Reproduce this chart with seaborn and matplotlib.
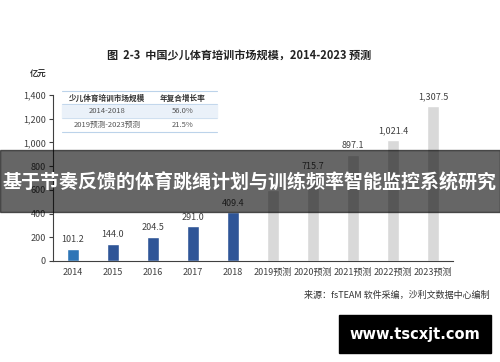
import matplotlib
matplotlib.use("Agg")
import matplotlib.pyplot as plt
import seaborn as sns
from matplotlib.patches import Rectangle
from matplotlib.lines import Line2D

# 数据
years = ["2014", "2015", "2016", "2017", "2018",
         "2019预测", "2020预测", "2021预测", "2022预测", "2023预测"]
# 2019预测 的数值被横幅遮住，按图估计
market_size = [101.2, 144.0, 204.5, 291.0, 409.4, 600.0, 715.7, 897.1, 1021.4, 1307.5]
show_label = [True, True, True, True, True, False, True, True, True, True]
bar_colors = ["#2e75b6", "#2f5597", "#2f5597", "#2f5597", "#2f5597",
              "#d9d9d9", "#d9d9d9", "#d9d9d9", "#d9d9d9", "#d9d9d9"]
table_header = ["少儿体育培训市场规模", "年复合增长率"]
table_rows = [["2014-2018", "56.0%"], ["2019预测-2023预测", "21.5%"]]
yticks = [0, 200, 400, 600, 800, 1000, 1200, 1400]

sns.set_style("white")
plt.rcParams["font.family"] = ["Noto Sans CJK SC", "DejaVu Sans"]

W, H = 500, 362
fig = plt.figure(figsize=(5, 3.62), dpi=100)

def fx(x):
    return x / W

def fy(y):
    return 1 - y / H

ax = fig.add_axes([fx(53), fy(261), fx(400), fy(95) - fy(261)])
sns.barplot(x=years, y=market_size, hue=years, palette=bar_colors,
            legend=False, width=0.3, saturation=1, ax=ax)
ax.set_xlim(-0.5, 9.5)
ax.set_ylim(0, 1400)
ax.set_yticks(yticks)
ax.set_yticklabels([f"{v:,}" for v in yticks], fontsize=6.5, color="#404040")
ax.set_xticks(range(len(years)))
ax.set_xticklabels(years, fontsize=6.5, color="#404040")
ax.set_xticks([i - 0.5 for i in range(len(years) + 1)], minor=True)
ax.tick_params(axis="x", which="major", length=0, pad=5)
ax.tick_params(axis="x", which="minor", length=3, color="#404040", width=0.8)
ax.tick_params(axis="y", length=3, color="#404040", width=0.8, pad=2, left=True)
ax.set_xlabel("")
ax.set_ylabel("")
for s in ["top", "right"]:
    ax.spines[s].set_visible(False)
for s in ["left", "bottom"]:
    ax.spines[s].set_color("#404040")
    ax.spines[s].set_linewidth(0.8)

for i, v in enumerate(market_size):
    if show_label[i]:
        ax.text(i, v + 40, f"{v:,.1f}", ha="center", va="bottom",
                fontsize=6.5, color="#404040")

# 标题
fig.text(fx(239), fy(56), "图  2-3  中国少儿体育培训市场规模，2014-2023 预测",
         ha="center", va="center", fontsize=8, fontweight="bold", color="#222222")
fig.text(fx(30), fy(74), "亿元", ha="left", va="center", fontsize=6,
         fontweight="bold", color="#333333")

# 内嵌表格
fig.patches.append(Rectangle((fx(62), fy(118)), fx(155), fy(104) - fy(118),
                             transform=fig.transFigure, color="#eaf1f9", zorder=3))
for yy, lw in [(91, 0.8), (104, 0.6), (118, 0.4), (132, 0.8)]:
    fig.lines.append(Line2D([fx(62), fx(217)], [fy(yy), fy(yy)],
                            transform=fig.transFigure, color="#bcd3ea", lw=lw, zorder=4))
col_x = [107, 183]
for j, h in enumerate(table_header):
    fig.text(fx(col_x[j]), fy(98), h, ha="center", va="center", fontsize=5.5,
             fontweight="bold", color="#333333", zorder=5)
for r, row in enumerate(table_rows):
    for j, c in enumerate(row):
        fig.text(fx(col_x[j]), fy(111 + r * 14), c, ha="center", va="center",
                 fontsize=5.5, color="#555555", zorder=5)

# 来源
fig.text(fx(490), fy(295), "来源：fsTEAM 软件采编，沙利文数据中心编制", ha="right",
         va="center", fontsize=6.5, style="italic", color="#333333")

# 横幅
fig.patches.append(Rectangle((0, fy(212)), 1, fy(150) - fy(212),
                             transform=fig.transFigure, color="black", alpha=0.6, zorder=10))
fig.text(0.5, fy(183), "基于节奏反馈的体育跳绳计划与训练频率智能监控系统研究",
         ha="center", va="center", fontsize=13.7, fontweight="bold",
         color="white", zorder=11)

# 水印
fig.patches.append(Rectangle((fx(339), fy(353)), fx(152), fy(315) - fy(353),
                             transform=fig.transFigure, color="black", zorder=10))
fig.text(fx(415), fy(334), "www.tscxjt.com", ha="center", va="center",
         fontsize=10.5, fontweight="bold", color="white", zorder=11,
         family=["DejaVu Sans"])

fig.savefig("out.png", dpi=100, facecolor="white")
